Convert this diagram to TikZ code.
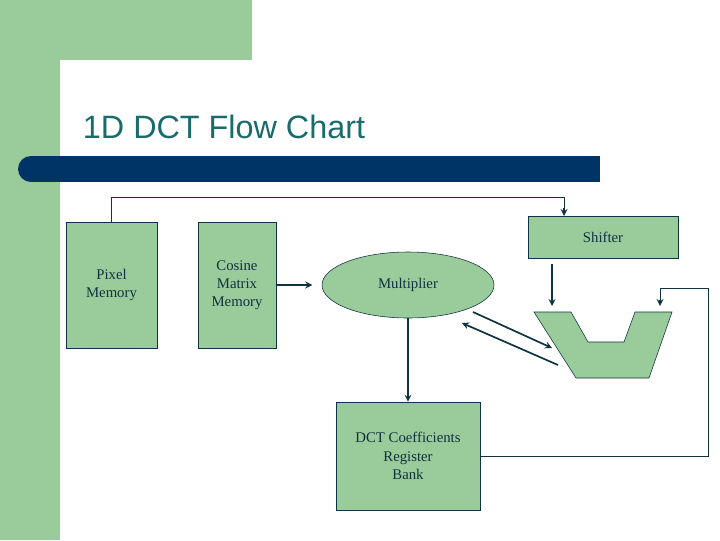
\documentclass[tikz,border=0pt]{standalone}
\usepackage{fontspec}
\setmainfont{Liberation Serif}
\newfontfamily\titlefont{Liberation Sans}
\usetikzlibrary{shapes.geometric, arrows}
\definecolor{slidegreen}{HTML}{9ACB9A}
\definecolor{slidenavy}{HTML}{003366}
\definecolor{slideteal}{HTML}{1A6B6B}
\definecolor{inktext}{HTML}{0F3340}
\tikzstyle{block} = [rectangle, draw=inktext, fill=slidegreen, text=inktext, font=\fontsize{10.5}{13}\selectfont, align=center, inner sep=0pt]
\tikzstyle{unit} = [ellipse, draw=inktext, fill=slidegreen, text=inktext, font=\fontsize{10.5}{13}\selectfont, inner sep=0pt]
\tikzstyle{wire} = [draw=inktext, semithick]
\tikzstyle{arrow} = [wire, very thick, ->, >=stealth]

\begin{document}
\begin{tikzpicture}[x=0.025cm, y=-0.025cm]

    % Background
    \useasboundingbox (0,0) rectangle (720,540);
    \fill[slidegreen] (0,0) rectangle (252,60);
    \fill[slidegreen] (0,0) rectangle (60,540);
    \fill[white, rounded corners=0.5cm] (60,60) rectangle (760,580);
    \fill[slidenavy] (31,156) rectangle (600,182);
    \fill[slidenavy] (31,169) circle[radius=0.325cm];
    \node (title) [anchor=base west, text=slideteal, font=\titlefont\fontsize{23}{26}\selectfont] at (78,138) {1D DCT Flow Chart};

    % Nodes
    \node (pixel) [block, minimum width=91*0.025cm, minimum height=126*0.025cm] at (111.5,285) {Pixel\\Memory};
    \node (cosine) [block, minimum width=78*0.025cm, minimum height=126*0.025cm] at (237,285) {Cosine\\Matrix\\Memory};
    \node (mult) [unit, minimum width=172*0.025cm, minimum height=66*0.025cm] at (408,285) {Multiplier};
    \node (shifter) [block, minimum width=150*0.025cm, minimum height=42*0.025cm] at (603,237) {Shifter};
    \node (dct) [block, minimum width=144*0.025cm, minimum height=108*0.025cm] at (408,456) {DCT Coefficients\\Register\\Bank};
    \draw[draw=inktext, fill=slidegreen] (534,312) -- (571,312) -- (588,342) -- (624,342) -- (635,312) -- (672,312) -- (649,378) -- (576,378) -- cycle;
    \coordinate (shiftin) at (564,216);
    \coordinate (addl) at (552,306);
    \coordinate (addr) at (660,306);
    \coordinate (addin) at (552,348);
    \coordinate (addout) at (558,365);
    \coordinate (multout) at (473,312);
    \coordinate (multin) at (462,323);

    % Arrows
    \draw [wire] (pixel.north) -- ++(0,-24) -| ([yshift=0.2cm]shiftin);
    \draw [arrow] (shiftin) ++(0,-8) -- (shiftin);
    \draw [arrow] (cosine.east) -- ++(36,0);
    \draw [arrow] (shifter.south -| addl) ++(0,6) -- (addl);
    \draw [arrow] (multout) -- (addin);
    \draw [arrow] (addout) -- (multin);
    \draw [arrow] (mult.south) -- (dct.north);
    \draw [wire] (dct.east) -- ++(228,0) -- ++(0,-168) -| ([yshift=0.15cm]addr);
    \draw [arrow] (addr) ++(0,-6) -- (addr);
    \end{tikzpicture}
\end{document}
